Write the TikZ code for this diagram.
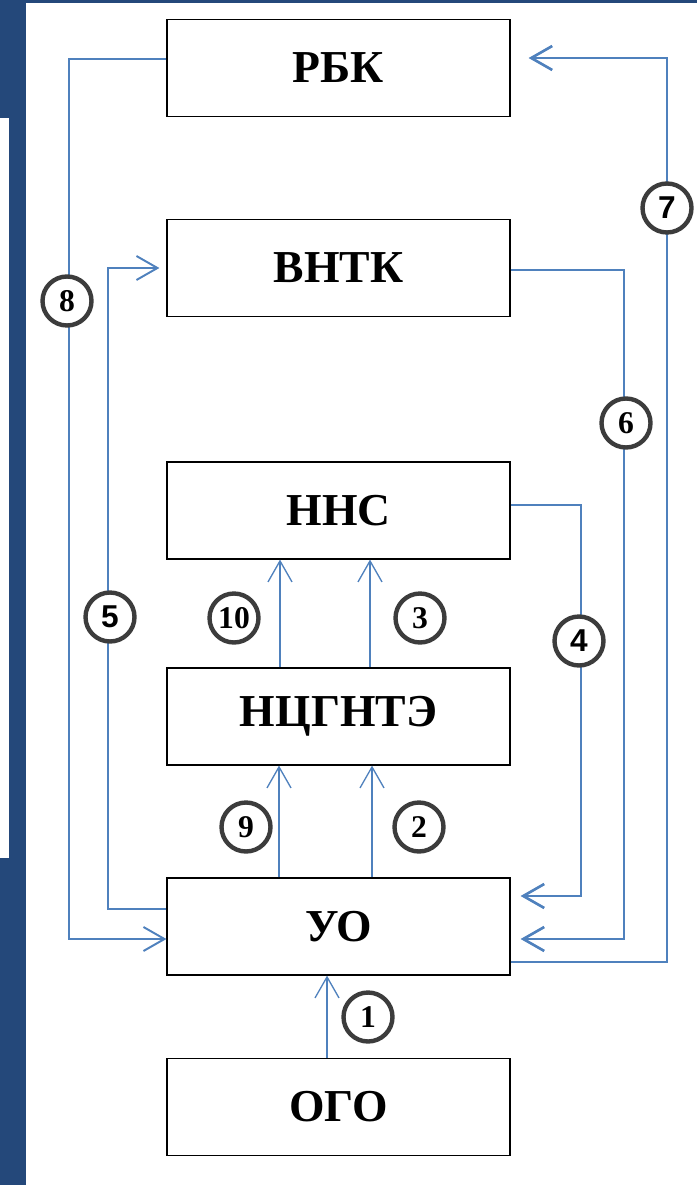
\documentclass[tikz,border=0pt]{standalone}
\usepackage{fontspec}
\setmainfont{Liberation Serif}
\newfontfamily\arialfont{Liberation Sans}
\usetikzlibrary{arrows.meta}

\definecolor{fond}{HTML}{24487A}
\definecolor{fleche}{HTML}{4F81BD}
\definecolor{cercle}{HTML}{3C3C3C}

\begin{document}
\begin{tikzpicture}[x=0.02cm,y=-0.02cm,
bloc/.style={draw,line width=0.7pt,fill=white,minimum width=6.86cm,minimum height=1.94cm,inner sep=0pt,font=\fontsize{26}{30}\selectfont\bfseries},
lien/.style={draw=fleche,line width=1.1pt,-{Straight Barb[length=0.42cm,width=0.48cm]}},
fin/.style={lien,line width=0.75pt},
epais/.style={lien,line width=1.5pt},
num/.style={circle,draw=cercle,line width=2.5pt,fill=white,minimum size=0.98cm,inner sep=0pt,font=\fontsize{18}{20}\selectfont\bfseries}]

\useasboundingbox (0,0) rectangle (697,1185);

% Fond
\fill[fond]
(0,0)
rectangle
(697,1185);

\fill[white]
(26,3)
rectangle
(697,1185);

\fill[white]
(0,118)
rectangle
(9,858);

% Blocs
\node[bloc] (rbk) at (338.5,68)
{РБК};

\node[bloc] (vntk) at (338.5,268)
{ВНТК};

\node[bloc] (nns) at (338.5,510.5)
{ННС};

\node[bloc] (nts) at (338.5,716.5)
{НЦГНТЭ};

\node[bloc] (uo) at (338.5,926.5)
{УО};

\node[bloc] (ogo) at (338.5,1107)
{ОГО};

% Liens
\draw[fin]
(ogo.north -| 327,0)
--
(uo.south -| 327,0);

\draw[fin]
(uo.north -| 279,0)
--
(nts.south -| 279,0);

\draw[fin]
(uo.north -| 372,0)
--
(nts.south -| 372,0);

\draw[fin]
(nts.north -| 280,0)
--
(nns.south -| 280,0);

\draw[fin]
(nts.north -| 370,0)
--
(nns.south -| 370,0);

\draw[epais,shorten >=0.2cm]
(nns.east |- 0,505)
-|
(581,896)
--
(uo.east |- 0,896);

\draw[lien,shorten >=0.14cm]
(uo.west |- 0,909)
-|
(108,268)
--
(vntk.west |- 0,268);

\draw[epais,shorten >=0.2cm]
(vntk.east |- 0,270)
-|
(624,939)
--
(uo.east |- 0,939);

\draw[epais,shorten >=0.36cm]
(uo.east |- 0,962)
-|
(667,58)
--
(rbk.east |- 0,58);

\draw[lien]
(rbk.west |- 0,59)
-|
(69,939)
--
(uo.west |- 0,939);

% Numeros
\node[num] (n1) at (368,1017) {1};
\node[num] (n2) at (419,827) {2};
\node[num] (n3) at (420,618) {3};
\node[num,font=\fontsize{18}{20}\arialfont\bfseries] (n4) at (579,641) {4};
\node[num,font=\fontsize{18}{20}\arialfont\bfseries] (n5) at (110,617) {5};
\node[num] (n6) at (626,423) {6};
\node[num,font=\fontsize{18}{20}\arialfont\bfseries] (n7) at (667,208) {7};
\node[num] (n8) at (67,301) {8};
\node[num] (n9) at (246,827) {9};
\node[num] (n10) at (234,618) {10};

\end{tikzpicture}
\end{document}
